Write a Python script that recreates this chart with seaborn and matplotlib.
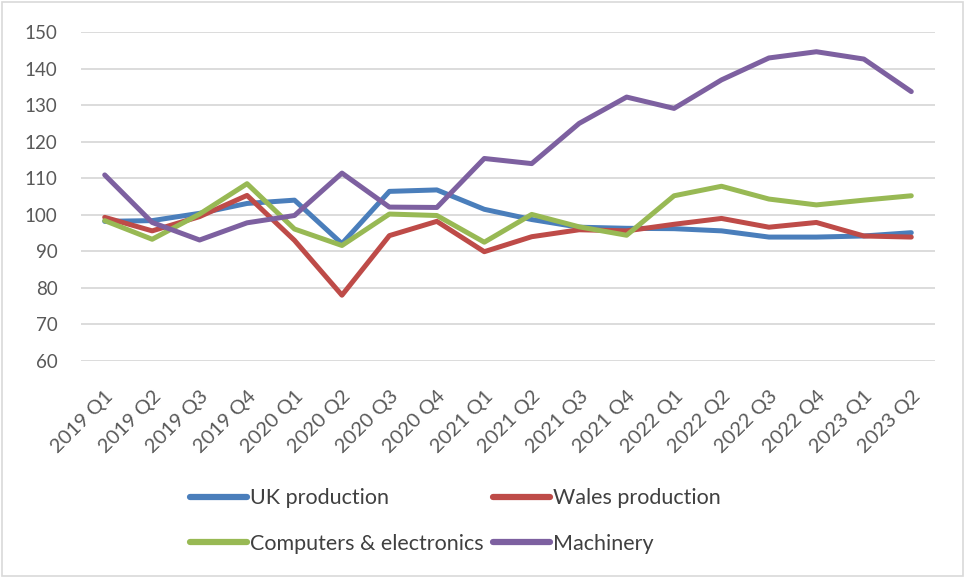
import matplotlib
matplotlib.use("Agg")
import matplotlib.pyplot as plt
import seaborn as sns
import pandas as pd
from matplotlib.patches import Rectangle

# Quarterly output indices (2019 Q3 = 100 base)
quarters = ["2019 Q1", "2019 Q2", "2019 Q3", "2019 Q4",
            "2020 Q1", "2020 Q2", "2020 Q3", "2020 Q4",
            "2021 Q1", "2021 Q2", "2021 Q3", "2021 Q4",
            "2022 Q1", "2022 Q2", "2022 Q3", "2022 Q4",
            "2023 Q1", "2023 Q2"]

uk_production = [98.2, 98.4, 100.4, 103.1, 104.0, 92.1, 106.4, 106.8, 101.5,
                 98.7, 96.6, 96.3, 96.2, 95.6, 93.9, 93.9, 94.2, 95.1]
wales_production = [99.3, 95.6, 99.5, 105.3, 93.0, 78.0, 94.3, 98.2, 89.9,
                    94.0, 95.9, 95.6, 97.4, 99.0, 96.6, 97.9, 94.2, 93.9]
computers_electronics = [98.4, 93.3, 100.2, 108.5, 96.1, 91.6, 100.2, 99.8, 92.5,
                         100.1, 96.7, 94.4, 105.2, 107.8, 104.3, 102.7, 104.0, 105.2]
machinery = [110.9, 97.9, 93.1, 97.8, 99.8, 111.4, 102.1, 102.0, 115.4,
             114.0, 125.0, 132.2, 129.1, 136.9, 142.9, 144.6, 142.6, 133.7]

series_names = ["UK production", "Wales production",
                "Computers & electronics", "Machinery"]
series_values = [uk_production, wales_production, computers_electronics, machinery]
series_colors = ["#4A7EBB", "#BE4B48", "#98B954", "#7D60A0"]

df = pd.concat(
    [pd.DataFrame({"quarter": quarters, "index": vals, "series": name})
     for name, vals in zip(series_names, series_values)],
    ignore_index=True,
)

sns.set_theme(style="white")
plt.rcParams["font.family"] = ["Lato", "DejaVu Sans"]

fig = plt.figure(figsize=(9.65, 5.78), dpi=100)
ax = fig.add_axes([81 / 965, 1 - 361 / 578, (935 - 81) / 965, (361 - 32) / 578])

sns.lineplot(data=df, x="quarter", y="index", hue="series",
             hue_order=series_names, palette=series_colors,
             linewidth=3.6, sort=False, ax=ax, legend=True)

ax.set_xlim(-0.5, len(quarters) - 0.5)
ax.set_ylim(60, 150)
ax.set_yticks(range(60, 151, 10))
ax.grid(axis="y", color="#D9D9D9", linewidth=1.3)
ax.set_axisbelow(True)
for s in ax.spines.values():
    s.set_visible(False)
ax.set_xlabel("")
ax.set_ylabel("")
ax.tick_params(axis="both", length=0, colors="#595959")
ax.tick_params(axis="y", pad=17, labelsize=13.5)
ax.tick_params(axis="x", pad=19, labelsize=14.5)
ax.set_xticks(range(len(quarters)))
ax.set_xticklabels(quarters, rotation=45, ha="right", rotation_mode="anchor")

# Legend laid out row by row: UK / Wales on top, Computers / Machinery below
handles, labels = ax.get_legend_handles_labels()
ax.get_legend().remove()
order = [0, 2, 1, 3]
leg = fig.legend([handles[i] for i in order], [labels[i] for i in order],
                 ncol=2, loc="center",
                 bbox_to_anchor=(0.472, 1 - 521 / 578), frameon=False,
                 fontsize=15.5, handlelength=2.65, handletextpad=0.12,
                 columnspacing=0.45, labelspacing=1.2, labelcolor="#404040")
for h in leg.get_lines():
    h.set_linewidth(4.5)
    h.set_solid_capstyle("round")

# Light border around the whole chart area
fig.patches.append(Rectangle((0.002, 0.003), 0.996, 0.994, transform=fig.transFigure,
                             fill=False, edgecolor="#D9D9D9", linewidth=1.2))

fig.savefig("out.png", dpi=100)
